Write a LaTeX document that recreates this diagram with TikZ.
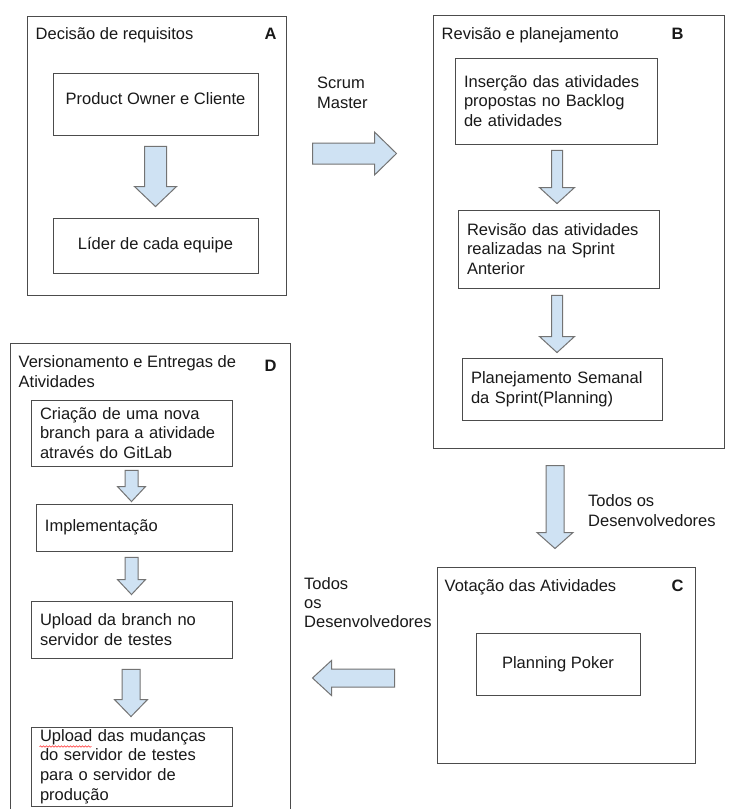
\documentclass[tikz,border=0pt]{standalone}
\usepackage{fontspec}
\setmainfont{Liberation Sans}
\usetikzlibrary{calc,decorations.pathmorphing}
\definecolor{arrowblue}{RGB}{207,226,243}
\newcommand{\fatarrow}[5]{%
  \coordinate (fh) at ($(#2)!#5pt!(#1)$);
  \filldraw[fat] ($(#1)!#3pt!90:(#2)$) -- ($(fh)!#3pt!90:(#2)$) -- ($(fh)!#4pt!90:(#2)$) -- (#2)
    -- ($(fh)!#4pt!-90:(#2)$) -- ($(fh)!#3pt!-90:(#2)$) -- ($(#1)!#3pt!-90:(#2)$) -- cycle;}

\begin{document}
\begin{tikzpicture}[x=1pt, y=-1pt, every node/.style={inner sep=0, text=black!90},
    font=\fontsize{16.5}{19.6}\selectfont,
    frame/.style={draw=black!70, line width=1pt},
    box/.style={draw=black!70, line width=0.9pt},
    lbox/.style={box, align=left, text width=#1},
    letter/.style={anchor=base, font=\fontsize{16.5}{19.6}\selectfont\bfseries},
    fat/.style={fill=arrowblue, draw=black!55, line width=1pt}]
    \fill[white] (0,0) rectangle (729,809);
    \useasboundingbox (0,0) rectangle (729,809);

    \node[frame, minimum width=259pt, minimum height=279pt] (fA) at (156.5,155.5) {};
    \node[frame, minimum width=291pt, minimum height=433pt] (fB) at (578.5,231.5) {};
    \node[frame, minimum width=258pt, minimum height=196pt] (fC) at (566,665) {};
    \node[frame, minimum width=280pt, minimum height=472pt] (fD) at (150,579) {};

    \node[anchor=base west] (tA) at ($(fA.north west)+(9,24)$) {Decisão de requisitos};
    \node[letter] (lA) at ($(fA.north east)+(-16,24)$) {A};
    \node[anchor=base west] (tB) at ($(fB.north west)+(9,25)$) {Revisão e planejamento};
    \node[letter] (lB) at ($(fB.north east)+(-47,25)$) {B};
    \node[anchor=base west] (tC) at ($(fC.north west)+(8,25)$) {Votação das Atividades};
    \node[letter] (lC) at ($(fC.north east)+(-18,25)$) {C};
    \node[anchor=north west, align=left] (tD) at ($(fD.north west)+(9,13)$) {Versionamento e Entregas de\\Atividades};
    \node[letter] (lD) at ($(fD.north east)+(-20,29)$) {D};

    \node[box, minimum width=205pt, minimum height=62pt, text depth=10pt] (A1) at (155.5,104) {Product Owner e Cliente};
    \node[box, minimum width=205pt, minimum height=55pt] (A2) at (155.5,245.5) {Líder de cada equipe};

    \node[lbox=184pt, minimum width=202pt, minimum height=86pt] (B1) at (556,101) {Inserção das atividades\\propostas no Backlog\\de atividades};
    \node[lbox=183pt, minimum width=201pt, minimum height=78pt] (B2) at (558.5,249) {Revisão das atividades\\realizadas na Sprint\\Anterior};
    \node[lbox=182pt, minimum width=200pt, minimum height=62pt] (B3) at (562,389) {Planejamento Semanal\\da Sprint(Planning)};

    \node[box, minimum width=164pt, minimum height=62pt] (C1) at (558,664) {Planning Poker};

    \node[lbox=183pt, minimum width=201pt, minimum height=66pt] (D1) at (131.5,433) {Criação de uma nova\\branch para a atividade\\através do GitLab};
    \node[lbox=178pt, minimum width=196pt, minimum height=47pt] (D2) at (134,527.5) {Implementação};
    \node[lbox=183pt, minimum width=201pt, minimum height=57pt] (D3) at (131.5,629.5) {Upload da branch no\\servidor de testes};
    \node[lbox=183pt, minimum width=201pt, minimum height=79pt] (D4) at (131.5,766.5) {Upload das mudanças\\do servidor de testes\\para o servidor de\\produção};
    \draw[red!80, line width=0.6pt, decorate, decoration={snake, amplitude=0.7pt, segment length=3pt}]
        ($(D4.north west)+(9,20)$) -- ($(D4.north west)+(61,20)$);

    \node[anchor=west, align=left] (sm) at (317,93) {Scrum\\Master};
    \node[anchor=west, align=left] (dev1) at (588,510.5) {Todos os\\Desenvolvedores};
    \node[anchor=west, align=left, font=\fontsize{16.5}{19}\selectfont] (dev2) at (304,603) {Todos\\os\\Desenvolvedores};

    \coordinate (a1) at ($(A1.south)+(0,11)$);
    \coordinate (a2) at ($(A2.north)+(0,-11)$);
    \coordinate (s1) at ($(fA.east)+(26,-2)$);
    \coordinate (s2) at ($(s1)+(84,0)$);
    \coordinate (b1) at ($(B1.south)+(1,6)$);
    \coordinate (b2) at ($(B2.north)+(-1.5,-6)$);
    \coordinate (b3) at ($(B2.south)+(-1.5,7)$);
    \coordinate (b4) at ($(B3.north)+(-5,-5)$);
    \coordinate (c1) at ($(fB.south)+(-23.5,17)$);
    \coordinate (c2) at ($(fC.north)+(-11,-18)$);
    \coordinate (e1) at ($(fC.west)+(-42,13)$);
    \coordinate (e2) at ($(e1)+(-82,0)$);
    \coordinate (d1) at ($(D1.south)+(0,4)$);
    \coordinate (d2) at ($(D2.north)+(-2.5,-2)$);
    \coordinate (d3) at ($(D2.south)+(-2.5,6)$);
    \coordinate (d4) at ($(D3.north)+(0,-6)$);
    \coordinate (d5) at ($(D3.south)+(-0.5,11)$);
    \coordinate (d6) at ($(D4.north)+(-0.5,-10)$);

    \fatarrow{a1}{a2}{11}{21}{20}
    \fatarrow{s1}{s2}{10.5}{21.5}{22}
    \fatarrow{b1}{b2}{5.5}{17.5}{16}
    \fatarrow{b3}{b4}{5.5}{17.5}{16}
    \fatarrow{c1}{c2}{9}{18}{16}
    \fatarrow{e1}{e2}{9}{17.5}{19}
    \fatarrow{d1}{d2}{6.5}{14}{15}
    \fatarrow{d3}{d4}{6.5}{14}{15}
    \fatarrow{d5}{d6}{9}{16.5}{17}
\end{tikzpicture}
\end{document}
